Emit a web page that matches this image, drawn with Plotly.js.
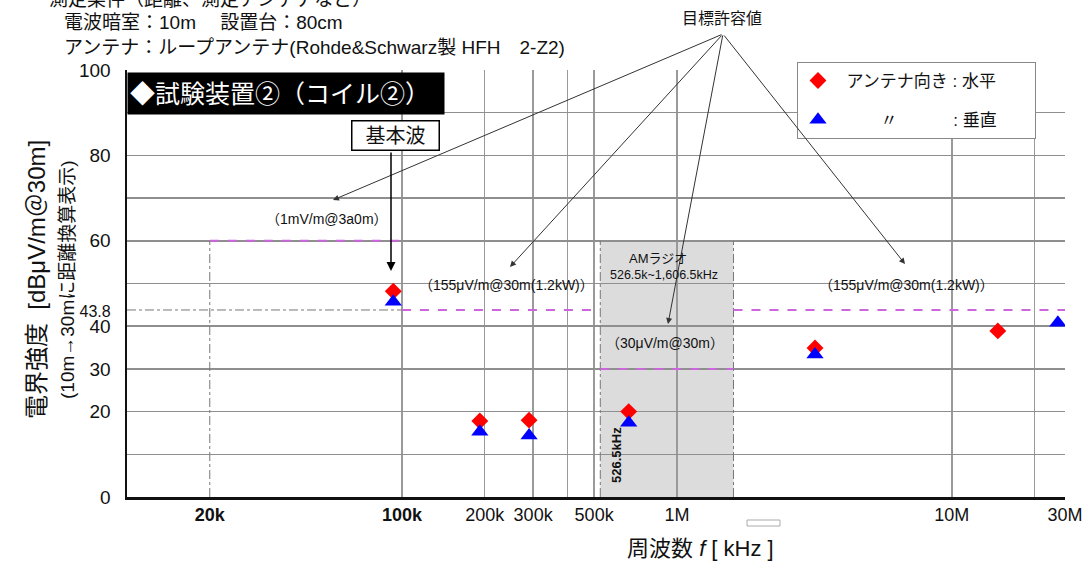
<!DOCTYPE html>
<html>
<head>
<meta charset="utf-8">
<script src="https://cdn.plot.ly/plotly-3.0.1.min.js"></script>
<style>
  html, body { margin: 0; padding: 0; background: #fff; }
  #chart { width: 1088px; height: 562px; }
</style>
</head>
<body>
<div id="chart"></div>
<script>
// measured field strength (dBuV/m @30m)
const freqH = [93e3, 192e3, 290e3, 668e3, 3.18e6, 14.7e6];
const levelH = [48.2, 17.8, 18.0, 20.0, 34.9, 38.9];
const freqV = [93e3, 192e3, 290e3, 668e3, 3.18e6, 24.3e6];
const levelV = [45.7, 15.3, 14.4, 17.4, 33.4, 40.8];

// target limits
const limitA_f = [2e4, 1e5], limitA_v = [60, 60];            // 1mV/m
const limitB_f = [1e5, 526.5e3], limitB_v = [43.8, 43.8];    // 155uV/m
const limitC_f = [1606.5e3, 2.58e7], limitC_v = [43.8, 43.8];
const limitD_f = [526.5e3, 1606.5e3], limitD_v = [30, 30];   // 30uV/m (AM band)
const amBand = [526.5e3, 1606.5e3];

// axis ticks
const xTickVals = [2e4, 1e5, 2e5, 3e5, 5e5, 1e6, 1e7, 2.58e7];
const xTickText = ['<b>20k</b>', '<b>100k</b>', '200k', '300k', '500k', '1M', '10M', '30M'];
const xGridVals = [1e5, 2e5, 3e5, 4e5, 5e5, 1e6, 1e7, 2e7, 2.58e7];
const yTickVals = [0, 20, 30, 40, 43.8, 60, 80, 100];
const yTickText = ['0', '20', '30', '40', '<span style="font-size:16px">43.8</span>', '60', '80', '100'];

const JP = 'Liberation Sans, Noto Sans CJK JP, sans-serif';
const magenta = '#cc66dd';

// pixel -> paper helpers (plot area 127..1065 x 70..497)
const L = 127, R = 1065, T = 70, B = 497;
const px = x => (x - L) / (R - L);
const py = y => (B - y) / (B - T);

function limitTrace(f, v) {
    return {x: f, y: v, mode: 'lines', showlegend: false, hoverinfo: 'skip',
        line: {color: magenta, width: 2, dash: 'dash'}};
}
function guideTrace(f, v) {
    return {x: f, y: v, mode: 'lines', showlegend: false, hoverinfo: 'skip',
        line: {color: '#777', width: 1, dash: 'dashdot'}};
}

let traces = [
    guideTrace([amBand[0], amBand[0]], [0, 60]),
    guideTrace([amBand[1], amBand[1]], [0, 60]),
    guideTrace([limitA_f[0], limitA_f[0]], [0, limitA_v[0]]),
    guideTrace([1e4, limitB_f[0]], [limitB_v[0], limitB_v[0]]),
    limitTrace(limitA_f, limitA_v),
    limitTrace(limitB_f, limitB_v),
    limitTrace(limitC_f, limitC_v),
    limitTrace(limitD_f, limitD_v),
    {
        x: freqH, y: levelH, mode: 'markers', name: '\u2002アンテナ向き : 水平\u3000\u3000',
        marker: {symbol: 'diamond', color: '#ff0000', size: 13}, legendgroup: 'h'
    },
    {
        x: freqV, y: levelV, mode: 'markers', name: '\u2002\u3000\u3000〃\u3000\u3000\u3000 : 垂直',
        marker: {symbol: 'triangle-up', color: '#0000ff', size: 15}, legendgroup: 'v'
    }
];

function arrow(hx, hy, tx, ty, color, width) {
    return {xref: 'paper', yref: 'paper', x: px(hx), y: py(hy), ax: tx - hx, ay: ty - hy,
        text: '', showarrow: true, arrowhead: 2, arrowsize: 1.2, arrowwidth: width || 1,
        arrowcolor: color || '#333'};
}
function label(x, y, text, size, extra) {
    return Object.assign({xref: 'paper', yref: 'paper', x: px(x), y: py(y), text: text,
        xanchor: 'center', yanchor: 'middle',
        showarrow: false, font: {family: JP, size: size, color: '#111'}}, extra || {});
}

let annotations = [
    // header notes (first line is cut by the top edge, as in the source image)
    label(28, -1, '・測定条件（距離、測定アンテナなど）', 19, {xanchor: 'left'}),
    label(62, 22, '電波暗室：10m　 設置台：80cm', 19, {xanchor: 'left'}),
    label(62, 48, 'アンテナ：ループアンテナ(Rohde&Schwarz製 HFH　2-Z2)', 19, {xanchor: 'left'}),
    // title box
    label(127, 72, '◆試験装置②（コイル②）', 25, {xanchor: 'left', yanchor: 'top', bgcolor: '#000',
        width: 312, height: 37, align: 'left', borderpad: 2, font: {family: JP, size: 25, color: '#fff'}}),
    // axis titles
    label(36, 280, '電界強度  [dBμV/m＠30m]', 24, {textangle: -90}),
    label(67, 280, '(10m→30mに距離換算表示)', 19, {textangle: -90}),
    label(700, 548, '周波数 <i>f</i> [ kHz ]', 22),
    // target limit pointers
    label(722, 18, '目標許容値', 16),
    arrow(333, 200, 723, 34),
    arrow(510, 267, 723, 34),
    arrow(668, 324, 723, 34),
    arrow(905, 264, 723, 34),
    label(327, 219, '（1mV/m@3a0m）', 14),
    label(506, 285, '（155μV/m@30m(1.2kW)）', 14),
    label(906, 285, '（155μV/m@30m(1.2kW)）', 14),
    label(665, 343, '（30μV/m@30m）', 14),
    // fundamental
    arrow(391, 271, 391, 151, '#000', 1.5),
    label(395, 136, '\u2002基本波\u2002', 20, {bgcolor: '#fff', bordercolor: '#000', borderwidth: 1.5, borderpad: 3}),
    // AM band
    label(658, 258, 'AMラジオ', 13),
    label(664, 275, '526.5k~1,606.5kHz', 12.5),
    label(616, 455, '<b>526.5kHz</b>', 13, {textangle: -90})
];

let layout = {
    width: 1088, height: 562,
    margin: {l: L, r: 1088 - R, t: T, b: 562 - B},
    paper_bgcolor: '#fff', plot_bgcolor: '#fff',
    font: {family: JP, color: '#111'},
    xaxis: {
        type: 'log', range: [4, Math.log10(2.58e7)],
        tickmode: 'array', tickvals: xTickVals, ticktext: xTickText,
        tickfont: {family: 'Liberation Sans, sans-serif', size: 18, color: '#111'},
        showgrid: false, zeroline: false, ticks: '', ticklabelstandoff: 0,
        showline: true, linecolor: '#111', linewidth: 2.5,
        minor: {tickmode: 'array', tickvals: xGridVals, showgrid: true, gridcolor: '#9a9a9a', gridwidth: 1.5, ticks: ''}
    },
    yaxis: {
        range: [0, 100], tickmode: 'array', tickvals: yTickVals, ticktext: yTickText,
        tickfont: {family: 'Liberation Sans, sans-serif', size: 19, color: '#111'},
        showgrid: false, zeroline: false, ticks: '', ticklabelstandoff: 10,
        showline: true, linecolor: '#111', linewidth: 2.5,
        minor: {dtick: 10, showgrid: true, gridcolor: '#8f8f8f', gridwidth: 1.5, ticks: ''}
    },
    shapes: [
        {type: 'rect', xref: 'x', yref: 'y', x0: amBand[0], x1: amBand[1], y0: 0, y1: 60,
            fillcolor: '#dcdcdc', line: {width: 0}, layer: 'below'},
        {type: 'rect', xref: 'paper', yref: 'paper', x0: px(747), x1: px(780), y0: py(520), y1: py(526),
            fillcolor: '#fff', line: {color: '#aaa', width: 1}}
    ],
    legend: {
        x: px(797), y: py(62), xanchor: 'left', yanchor: 'top',
        bgcolor: '#fff', bordercolor: '#888', borderwidth: 1,
        font: {family: JP, size: 17, color: '#111'}, tracegroupgap: 14
    },
    annotations: annotations
};

Plotly.newPlot('chart', traces, layout, {displayModeBar: false, staticPlot: true});
</script>
</body>
</html>
